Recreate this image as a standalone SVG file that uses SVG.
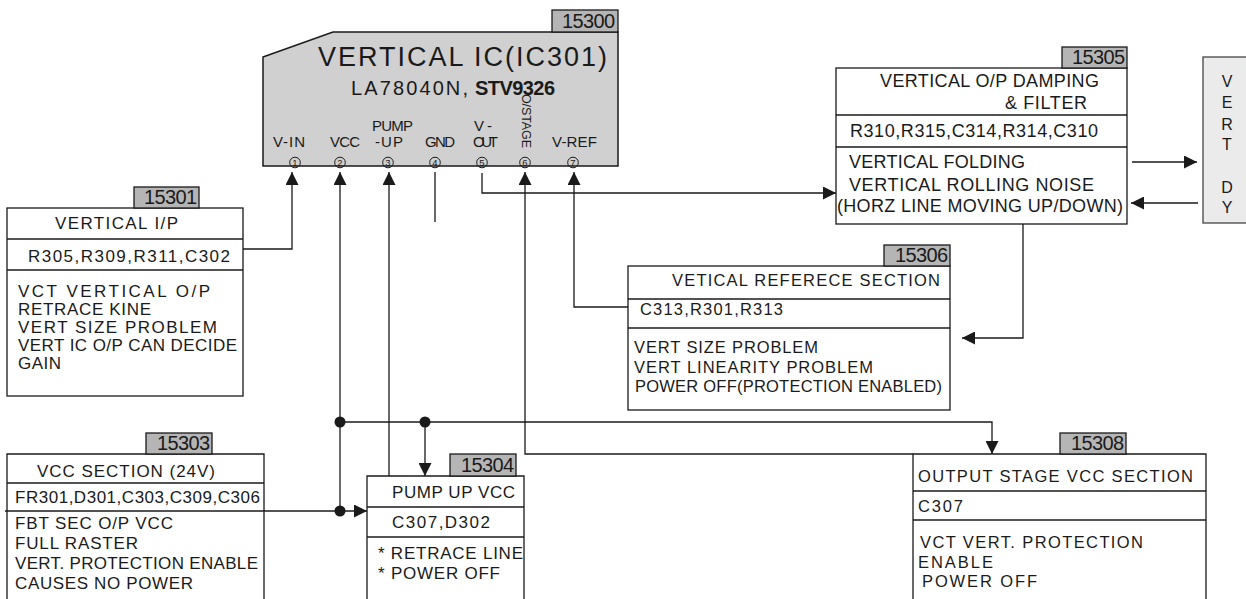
<svg xmlns="http://www.w3.org/2000/svg" width="1246" height="599" viewBox="0 0 1246 599">
<defs>
<style>
.t{font-family:"Liberation Sans",Arial,"Noto Sans CJK JP",sans-serif;fill:#1a1a1a;white-space:pre}
.s15{font-size:16.5px}.s16{font-size:17px}.s17{font-size:18px}.s14{font-size:15px}
.box{fill:#fff;stroke:#1a1a1a;stroke-width:1.3}
.open{fill:none;stroke:#1a1a1a;stroke-width:1.3}
.div{stroke:#1a1a1a;stroke-width:1.3}
.tag{fill:#b5b5b5;stroke:#1a1a1a;stroke-width:1.3}
.tagt{font-family:"Liberation Sans",Arial,sans-serif;font-size:20px;fill:#1a1a1a;text-anchor:end}
.c{fill:none;stroke:#1a1a1a;stroke-width:1.3}
.dot{fill:#1a1a1a}
.pc{fill:none;stroke:#1a1a1a;stroke-width:1}
.cn{font-family:"Liberation Sans",Arial,sans-serif;font-size:9.5px;fill:#1a1a1a;text-anchor:middle}
</style>
<marker id="ah" viewBox="0 0 13 13" refX="13" refY="6.5" markerWidth="13" markerHeight="13" markerUnits="userSpaceOnUse" orient="auto">
<path d="M0,0 L13,6.5 L0,13 z" fill="#1a1a1a"/>
</marker>
</defs>
<rect width="1246" height="599" fill="#fff"/>

<g id="connectors">
<path class="c" d="M243,249 H292 V172" marker-end="url(#ah)"/>
<path class="c" d="M340,511 V172" marker-end="url(#ah)"/>
<path class="c" d="M340,422 H992 V454" marker-end="url(#ah)"/>
<path class="c" d="M425,422 V476" marker-end="url(#ah)"/>
<path class="c" d="M389,476 V172" marker-end="url(#ah)"/>
<path class="c" d="M435,172 V222"/>
<path class="c" d="M482,173 V193 H836" marker-end="url(#ah)"/>
<path class="c" d="M913,454 H525 V172" marker-end="url(#ah)"/>
<path class="c" d="M628,307 H574 V172" marker-end="url(#ah)"/>
<path class="c" d="M1132,162 H1197" marker-end="url(#ah)"/>
<path class="c" d="M1198,203 H1131" marker-end="url(#ah)"/>
<path class="c" d="M1023,224 V338 H962" marker-end="url(#ah)"/>
<path class="c" d="M264,511 H367" marker-end="url(#ah)"/>
<circle class="dot" cx="340" cy="422" r="5.5"/>
<circle class="dot" cx="425" cy="422" r="5.5"/>
<circle class="dot" cx="340" cy="511" r="5.5"/>
</g>

<g id="ic15300">
<polygon points="263,57 333,32 618,32 618,166 263,166" fill="#d0d0d0" stroke="#1a1a1a" stroke-width="1.5"/>
<rect class="tag" x="552" y="10" width="66" height="22"/>
<text class="tagt" x="615" y="28" textLength="53">15300</text>
<text class="t" x="318" y="66" font-size="27" textLength="289">VERTICAL IC(IC301)</text>
<text class="t" x="351" y="95" font-size="20" textLength="117">LA78040N,</text>
<text class="t" x="475" y="95" font-size="20" font-weight="bold" textLength="80">STV9326</text>
<g class="t s14">
<text x="273" y="147" textLength="32">V-IN</text>
<text x="330" y="147" textLength="30">VCC</text>
<text x="372" y="131" textLength="41">PUMP</text>
<text x="375" y="147" textLength="28">-UP</text>
<text x="425" y="147" textLength="30">GND</text>
<text x="474" y="131" textLength="18">V-</text>
<text x="473" y="147" textLength="25">OUT</text>
<text x="552" y="147" textLength="45">V-REF</text>
</g>
<text class="t" font-size="12.5" transform="translate(521.5,94) rotate(90)" textLength="54">O/STAGE</text>
<g>
<circle class="pc" cx="295" cy="162.5" r="5.3"/>
<circle class="pc" cx="340" cy="162.5" r="5.3"/>
<circle class="pc" cx="388" cy="162.5" r="5.3"/>
<circle class="pc" cx="435" cy="162.5" r="5.3"/>
<circle class="pc" cx="482" cy="162.5" r="5.3"/>
<circle class="pc" cx="525" cy="162.5" r="5.3"/>
<circle class="pc" cx="573" cy="162.5" r="5.3"/>
</g>
<g class="cn">
<text x="295" y="166">1</text>
<text x="340" y="166">2</text>
<text x="388" y="166">3</text>
<text x="435" y="166">4</text>
<text x="482" y="166">5</text>
<text x="525" y="166">6</text>
<text x="573" y="166">7</text>
</g>
</g>

<g id="box15301">
<rect class="box" x="7" y="208" width="236" height="188"/>
<line class="div" x1="7" y1="239" x2="243" y2="239"/>
<line class="div" x1="7" y1="270" x2="243" y2="270"/>
<rect class="tag" x="134" y="187" width="65" height="21"/>
<text class="tagt" x="197" y="204" textLength="53">15301</text>
<g class="t s16">
<text x="55" y="229" textLength="123">VERTICAL  I/P</text>
<text x="28" y="262" textLength="202">R305,R309,R311,C302</text>
<text x="18" y="297" textLength="192">VCT VERTICAL O/P</text>
<text x="18" y="315" textLength="133">RETRACE KINE</text>
<text x="18" y="333" textLength="199">VERT SIZE   PROBLEM</text>
<text x="18" y="351" textLength="219">VERT IC O/P CAN DECIDE</text>
<text x="18" y="369" textLength="43">GAIN</text>
</g>
</g>

<g id="box15303">
<path class="open" d="M7,599 V454 H264 V599"/>
<line class="div" x1="7" y1="483" x2="264" y2="483"/>
<line class="div" x1="5" y1="511" x2="264" y2="511"/>
<rect class="tag" x="146" y="433" width="66" height="21"/>
<text class="tagt" x="210" y="450" textLength="53">15303</text>
<g class="t s16">
<text x="37" y="477" textLength="178">VCC SECTION (24V)</text>
<text x="15" y="503" textLength="245">FR301,D301,C303,C309,C306</text>
<text x="15" y="529" textLength="158">FBT SEC O/P VCC</text>
<text x="15" y="549" textLength="123">FULL RASTER</text>
<text x="15" y="569" textLength="243">VERT. PROTECTION ENABLE</text>
<text x="15" y="589" textLength="178">CAUSES NO POWER</text>
</g>
</g>

<g id="box15304">
<path class="open" d="M367,599 V476 H524 V599"/>
<line class="div" x1="367" y1="507" x2="524" y2="507"/>
<line class="div" x1="367" y1="537" x2="524" y2="537"/>
<rect class="tag" x="450" y="454" width="66" height="22"/>
<text class="tagt" x="514" y="472" textLength="53">15304</text>
<g class="t s16">
<text x="392" y="498" textLength="123">PUMP UP VCC</text>
<text x="392" y="528" textLength="98">C307,D302</text>
<text x="378" y="559" textLength="145">* RETRACE LINE</text>
<text x="378" y="579" textLength="122">* POWER OFF</text>
</g>
</g>

<g id="box15305">
<rect class="box" x="836" y="68" width="291" height="156"/>
<line class="div" x1="836" y1="115" x2="1127" y2="115"/>
<line class="div" x1="836" y1="147" x2="1127" y2="147"/>
<rect class="tag" x="1062" y="47" width="65" height="21"/>
<text class="tagt" x="1125" y="64" textLength="53">15305</text>
<g class="t s17">
<text x="880" y="87" textLength="219">VERTICAL O/P DAMPING</text>
<text x="1005" y="109" textLength="82">&amp; FILTER</text>
<text x="850" y="137" textLength="248">R310,R315,C314,R314,C310</text>
<text x="849" y="168" textLength="176">VERTICAL FOLDING</text>
<text x="849" y="191" textLength="245">VERTICAL ROLLING  NOISE</text>
<text x="837" y="212" textLength="286">(HORZ LINE MOVING UP/DOWN)</text>
</g>
</g>

<g id="vertdy">
<rect x="1203" y="57" width="60" height="166" fill="#ebebeb" stroke="#444" stroke-width="1.3"/>
<g class="t" font-size="16" text-anchor="middle" fill="#333">
<text x="1227" y="87">V</text>
<text x="1227" y="108">E</text>
<text x="1227" y="130">R</text>
<text x="1227" y="150">T</text>
<text x="1227" y="193">D</text>
<text x="1227" y="213">Y</text>
</g>
</g>

<g id="box15306">
<rect class="box" x="628" y="266" width="322" height="144"/>
<line class="div" x1="628" y1="299" x2="950" y2="299"/>
<line class="div" x1="628" y1="328" x2="950" y2="328"/>
<rect class="tag" x="884" y="245" width="66" height="21"/>
<text class="tagt" x="948" y="262" textLength="53">15306</text>
<g class="t s15">
<text x="672" y="286" textLength="268">VETICAL REFERECE  SECTION</text>
<text x="640" y="315" textLength="143">C313,R301,R313</text>
<text x="634" y="353" textLength="184">VERT SIZE PROBLEM</text>
<text x="634" y="373" textLength="239">VERT LINEARITY PROBLEM</text>
<text x="635" y="392" textLength="307">POWER OFF(PROTECTION ENABLED)</text>
</g>
</g>

<g id="box15308">
<path class="open" d="M913,599 V454 H1206 V599"/>
<line class="div" x1="913" y1="491" x2="1206" y2="491"/>
<line class="div" x1="913" y1="520" x2="1206" y2="520"/>
<rect class="tag" x="1060" y="433" width="66" height="21"/>
<text class="tagt" x="1124" y="450" textLength="53">15308</text>
<g class="t s15">
<text x="918" y="482" textLength="275">OUTPUT STAGE VCC SECTION</text>
<text x="918" y="512" textLength="45">C307</text>
<text x="920" y="548" textLength="223">VCT VERT. PROTECTION</text>
<text x="918" y="568" textLength="75">ENABLE</text>
<text x="922" y="587" textLength="115">POWER OFF</text>
</g>
</g>
</svg>
